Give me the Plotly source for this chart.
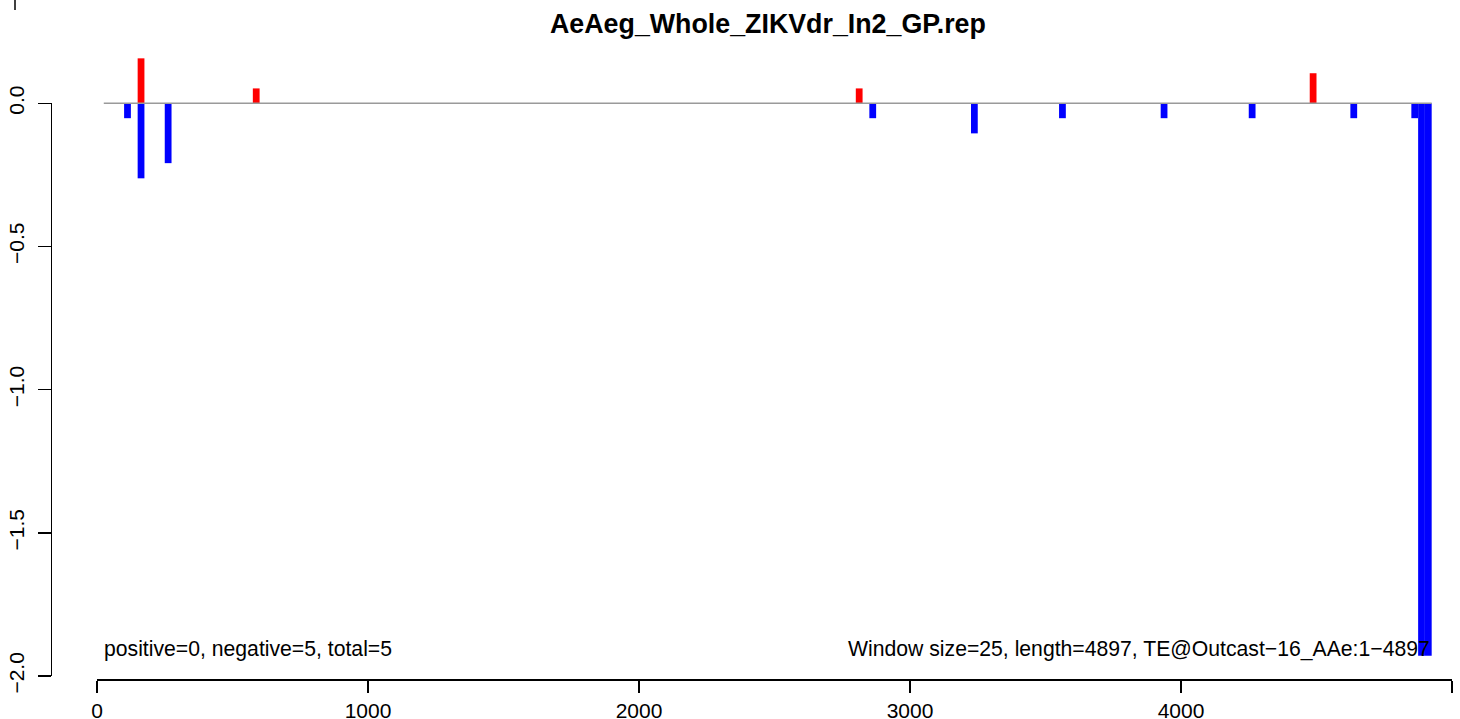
import plotly.graph_objects as go

# ---------------- data ----------------
title_text = "AeAeg_Whole_ZIKVdr_In2_GP.rep"
window_size = 25
pos_starts = [150, 575, 2800, 4475]
pos_values = [0.157, 0.052, 0.052, 0.105]
neg_starts = [100, 150, 250, 2850, 3225, 3550, 3925, 4250, 4625, 4850, 4875, 4900]
neg_values = [-0.052, -0.262, -0.209, -0.052, -0.105, -0.052, -0.052, -0.052,
              -0.052, -0.052, -1.929, -1.929]
x_ticks = [0, 1000, 2000, 3000, 4000, 5000]
x_tick_labels = ["0", "1000", "2000", "3000", "4000", "5000"]
y_ticks = [0, -0.5, -1.0, -1.5, -2.0]
y_tick_labels = ["0.0", "\u22120.5", "\u22121.0", "\u22121.5", "\u22122.0"]
left_note = "positive=0, negative=5, total=5"
right_note = "Window size=25, length=4897, TE@Outcast\u221216_AAe:1\u22124897"
baseline_x = [25, 4925]
x_range = [0, 5000]
y_range = [-2.0, 0.0]

# ---------------- geometry (pixels) ----------------
W, H = 1460, 719
X0_PX, X1_PX = 97, 1452        # x = 0 and x = 5000
Y0_PX, Y1_PX = 103.3, 676.0    # y = 0 and y = -2
XAXIS_LINE_PX = 679
YAXIS_LINE_PX = 50.5
NOTE_Y_PX = 649
FONT = "Liberation Sans, Arial, Helvetica, sans-serif"

xs = (X1_PX - X0_PX) / (x_range[1] - x_range[0])
ys = (Y1_PX - Y0_PX) / (y_range[1] - y_range[0])
full_x = [x_range[0] - X0_PX / xs, x_range[0] + (W - X0_PX) / xs]
full_y = [y_range[1] - (H - Y0_PX) / ys, y_range[1] + Y0_PX / ys]

fig = go.Figure()

# baseline
fig.add_trace(go.Scatter(
    x=baseline_x, y=[0, 0], mode="lines", line=dict(color="#9a9a9a", width=1.5),
    xaxis="x2", yaxis="y2", showlegend=False, hoverinfo="skip"))

# bars
fig.add_trace(go.Bar(
    x=[s + window_size / 2 for s in neg_starts], y=neg_values, width=window_size,
    marker=dict(color="#0000FF", line=dict(width=0)),
    xaxis="x2", yaxis="y2", showlegend=False))
fig.add_trace(go.Bar(
    x=[s + window_size / 2 for s in pos_starts], y=pos_values, width=window_size,
    marker=dict(color="#FF0000", line=dict(width=0)),
    xaxis="x2", yaxis="y2", showlegend=False))

# invisible anchor trace so the R-style axes subplot is drawn
fig.add_trace(go.Scatter(x=[0], y=[0], mode="markers", marker=dict(opacity=0),
                         xaxis="x", yaxis="y", showlegend=False, hoverinfo="skip"))

axis_common = dict(showline=True, linecolor="black", linewidth=1.5, ticks="outside",
                   tickwidth=1.5, tickcolor="black", showgrid=False, zeroline=False,
                   automargin=False,
                   tickfont=dict(family=FONT, size=21, color="black"), fixedrange=True)

note_font = dict(family=FONT, size=21.2, color="black")

fig.update_layout(
    width=W, height=H, autosize=False,
    margin=dict(l=0, r=0, t=0, b=0, pad=0),
    paper_bgcolor="white", plot_bgcolor="rgba(0,0,0,0)",
    barmode="overlay", showlegend=False,
    xaxis=dict(domain=[X0_PX / W, X1_PX / W], range=x_range, anchor="free",
               position=(H - XAXIS_LINE_PX) / H, tickmode="array",
               tickvals=x_ticks, ticktext=x_tick_labels, ticklen=12, **axis_common),
    yaxis=dict(domain=[(H - Y1_PX) / H, (H - Y0_PX) / H], range=y_range, anchor="free",
               position=YAXIS_LINE_PX / W, tickmode="array", tickvals=y_ticks,
               ticktext=y_tick_labels, ticklen=13, tickangle=-90,
               ticklabelstandoff=5, **axis_common),
    xaxis2=dict(domain=[0, 1], range=full_x, visible=False, anchor="y2",
                fixedrange=True, automargin=False),
    yaxis2=dict(domain=[0, 1], range=full_y, visible=False, anchor="x2",
                fixedrange=True, automargin=False),
    annotations=[
        dict(text="<b>" + title_text + "</b>", xref="paper", yref="paper",
             x=768 / W, y=1 - 24 / H, xanchor="center", yanchor="middle",
             showarrow=False, font=dict(family=FONT, size=26.8, color="black")),
        dict(text=left_note, xref="paper", yref="paper", x=103 / W,
             y=1 - NOTE_Y_PX / H, xanchor="left", yanchor="middle",
             showarrow=False, font=note_font, borderpad=0),
        dict(text=right_note, xref="paper", yref="paper", x=1431 / W,
             y=1 - NOTE_Y_PX / H, xanchor="right", yanchor="middle",
             showarrow=False, font=note_font, borderpad=0),
    ],
    shapes=[dict(type="line", xref="paper", yref="paper", x0=15 / W, x1=15 / W,
                 y0=1, y1=1 - 10 / H, line=dict(color="black", width=1.5))],
)

fig.write_html("out.html", config={"displayModeBar": False, "staticPlot": True},
               post_script="document.body.style.margin='0';document.body.style.overflow='hidden';")
